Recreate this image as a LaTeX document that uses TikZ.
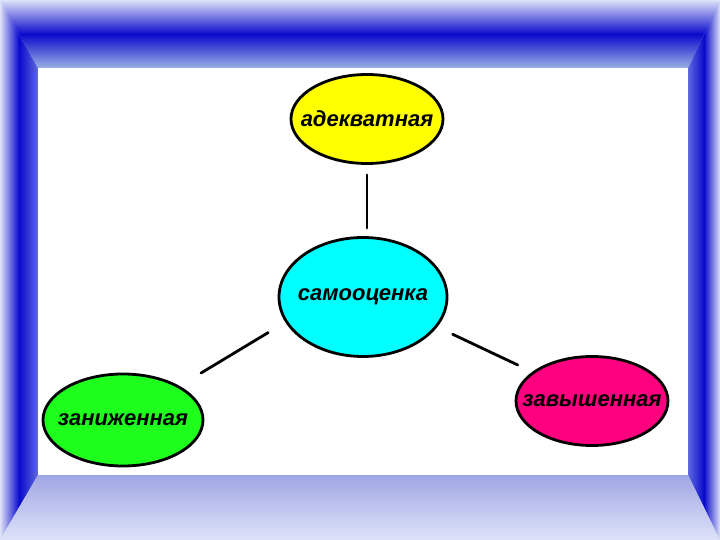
\documentclass[tikz,border=0pt]{standalone}
\usepackage{fontspec}
\setsansfont{Liberation Sans}
\usetikzlibrary{shapes.geometric}
\definecolor{frameLight}{RGB}{222,226,248}
\definecolor{frameDeep}{RGB}{10,10,205}
\definecolor{frameTop}{RGB}{155,176,226}
\definecolor{frameLow}{RGB}{160,166,228}
\definecolor{frameSide}{RGB}{95,105,222}
\definecolor{ovYellow}{RGB}{255,255,0}
\definecolor{ovCyan}{RGB}{0,255,255}
\definecolor{ovGreen}{RGB}{30,255,30}
\definecolor{ovPink}{RGB}{255,0,128}
\newcommand{\ovtext}[1]{\makebox[0pt]{#1}}
\tikzset{
  oval/.style={ellipse, draw=black, line width=2.8pt, inner sep=0pt,
               font=\sffamily\bfseries\itshape\fontsize{22}{26}\selectfont},
  link/.style={line width=2.8pt, black, line cap=round},
}

\begin{document}
\begin{tikzpicture}[x=1pt, y=1pt]
  \useasboundingbox (0,0) rectangle (720,540);
  % frame
  \fill[frameLight] (0,0) rectangle (720,540);
  \shade[left color=frameLight, right color=frameSide, middle color=frameDeep]
    (0,0) -- (0,540) -- (38,472) -- (38,65) -- cycle;
  \shade[left color=frameSide, right color=frameLight, middle color=frameDeep]
    (720,0) -- (720,540) -- (688,472) -- (688,65) -- cycle;
  \shade[top color=frameLight, bottom color=frameTop, middle color=frameDeep]
    (0,540) -- (720,540) -- (688,472) -- (38,472) -- cycle;
  \shade[top color=frameLow, bottom color=frameLight]
    (0,0) -- (720,0) -- (688,65) -- (38,65) -- cycle;
  \fill[white] (38,65) rectangle (688,472);

  % ovals
  \node[oval, fill=ovYellow, minimum width=152pt, minimum height=89pt] (adekv) at (367,421) {\ovtext{адекватная}};
  \node[oval, fill=ovCyan,   minimum width=168pt, minimum height=119pt] (samo)  at (363,243) {\ovtext{самооценка}};
  \node[oval, fill=ovGreen,  minimum width=160pt, minimum height=92pt] (zan)   at (123,120) {\ovtext{заниженная}};
  \node[oval, fill=ovPink,   minimum width=152pt, minimum height=89pt] (zav)   at (592,139) {\ovtext{завышенная}};

  % links
  \draw[link, shorten <=10pt, shorten >=8pt] (adekv.south) -- (adekv.south |- samo.north);
  \draw[link, shorten <=20pt, shorten >=25pt] (samo.198) -- (zan.31.5);
  \draw[link, shorten <=17pt, shorten >=16pt] (samo.338) -- (zav.154);
\end{tikzpicture}
\end{document}
